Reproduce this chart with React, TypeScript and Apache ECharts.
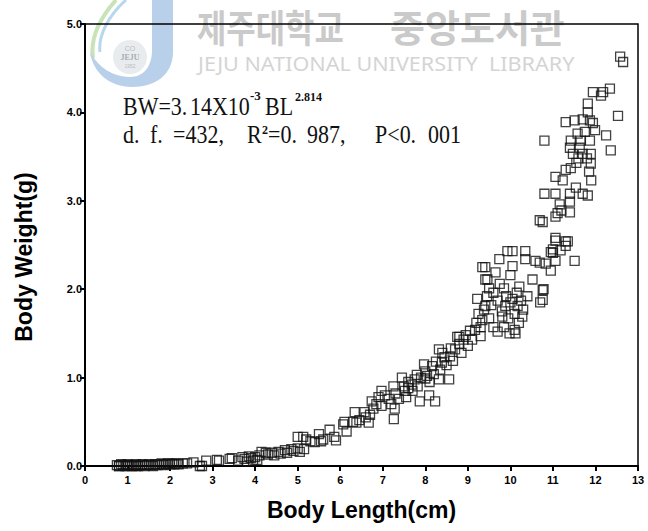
import React, { useEffect, useRef } from 'react';
import * as echarts from 'echarts';

// Axis settings
const xMin = 0;
const xMax = 13;
const xStep = 1;
const yMin = 0;
const yMax = 5;
const yStep = 1;

const xAxisTitle = 'Body Length(cm)';
const yAxisTitle = 'Body Weight(g)';

const blUnder3: number[][] = [
  [0.75, 0.01], [0.8, 0.0], [0.85, 0.02], [0.9, 0.01], [0.95, 0.0], [1.0, 0.02], [1.05, 0.01],
  [1.1, 0.0], [1.15, 0.01], [1.2, 0.02], [1.25, 0.0], [1.3, 0.01], [1.35, 0.02], [1.4, 0.0],
  [1.45, 0.01], [1.5, 0.02], [1.55, 0.01], [1.6, 0.0], [1.65, 0.02], [1.7, 0.01], [1.75, 0.02],
  [1.8, 0.03], [1.85, 0.01], [1.9, 0.02], [1.95, 0.03], [2.0, 0.02], [2.05, 0.03], [2.1, 0.02],
  [2.15, 0.03], [2.2, 0.02], [2.3, 0.03], [2.4, 0.03], [2.55, 0.04], [2.7, 0.0], [2.75, 0.0],
  [2.85, 0.06], [0.8, 0.0], [1.0, 0.0], [1.2, 0.0],
];

const bl3to5: number[][] = [
  [3.1, 0.07], [3.15, 0.06], [3.4, 0.08], [3.45, 0.09], [3.6, 0.06], [3.7, 0.1], [3.75, 0.08],
  [3.8, 0.05], [3.85, 0.11], [3.9, 0.09], [4.0, 0.1], [4.05, 0.07], [4.1, 0.12], [4.15, 0.16],
  [4.3, 0.13], [4.4, 0.15], [4.45, 0.12], [4.55, 0.16], [4.6, 0.14], [4.7, 0.18], [4.75, 0.15],
  [4.85, 0.19], [4.9, 0.17], [5.0, 0.2], [5.05, 0.16], [5.15, 0.19], [5.0, 0.33], [5.2, 0.3],
  [3.95, 0.06], [4.25, 0.15],
];

const bl5to7: number[][] = [
  [5.13, 0.33], [5.3, 0.28], [5.4, 0.27], [5.5, 0.36], [5.55, 0.28], [5.6, 0.3], [5.75, 0.41],
  [5.86, 0.33], [5.9, 0.29], [6.07, 0.47], [6.1, 0.5], [6.15, 0.39], [6.3, 0.5], [6.34, 0.61],
  [6.38, 0.49], [6.45, 0.52], [6.57, 0.61], [6.6, 0.55], [6.67, 0.49], [6.74, 0.73], [6.78, 0.65],
  [6.7, 0.58], [6.85, 0.7], [6.97, 0.85], [6.97, 0.68], [6.9, 0.78],
];

const bl7to9: number[][] = [
  [7.05, 0.8], [7.14, 0.76], [7.2, 0.7], [7.25, 0.9], [7.28, 0.65], [7.26, 0.53], [7.38, 0.76],
  [7.3, 0.82], [7.45, 1.0], [7.5, 0.9], [7.52, 0.85], [7.55, 0.78], [7.6, 0.95], [7.68, 0.92],
  [7.7, 0.85], [7.75, 0.98], [7.8, 1.03], [7.82, 0.9], [7.87, 0.73], [7.9, 1.0], [7.97, 1.15],
  [8.0, 1.07], [8.04, 1.02], [8.09, 0.8], [8.1, 0.95], [8.16, 1.13], [8.2, 1.04], [8.23, 0.73],
  [8.25, 1.18], [8.32, 1.32], [8.32, 0.98], [8.35, 1.09], [8.39, 1.17], [8.45, 1.23], [8.5, 1.14],
  [8.56, 0.98], [8.58, 1.24], [8.6, 1.33], [8.65, 1.19], [8.7, 1.32], [8.75, 1.46], [8.8, 1.38],
  [8.85, 1.28], [8.9, 1.43], [8.95, 1.48], [9.0, 1.36], [9.05, 1.53], [9.1, 1.43], [7.6, 0.88],
  [8.0, 0.99], [8.4, 1.28], [8.8, 1.46],
];

const bl9to10: number[][] = [
  [9.17, 1.54], [9.2, 1.62], [9.22, 1.89], [9.25, 1.72], [9.3, 1.57], [9.34, 1.65], [9.34, 2.25],
  [9.38, 1.77], [9.41, 1.81], [9.41, 2.11], [9.41, 2.25], [9.45, 1.92], [9.46, 2.11], [9.5, 1.67],
  [9.5, 2.01], [9.55, 1.82], [9.6, 1.96], [9.65, 2.19], [9.6, 1.57], [9.7, 1.87], [9.74, 2.34],
  [9.75, 2.06], [9.8, 1.75], [9.81, 1.69], [9.85, 1.57], [9.88, 1.81], [9.9, 1.92], [9.93, 2.43],
  [9.95, 1.67], [9.98, 1.5], [10.0, 1.85], [10.05, 2.43], [10.05, 2.26], [10.05, 1.89], [10.1, 1.54],
  [10.1, 1.72], [10.12, 1.5], [10.15, 1.96], [10.17, 1.81], [10.2, 1.62], [10.21, 2.03], [10.25, 1.87],
  [10.28, 1.69], [10.3, 1.77], [10.35, 2.43], [10.35, 2.34], [10.4, 1.92], [9.3, 1.47], [9.7, 1.52],
  [9.85, 2.01], [10.0, 2.16], [10.7, 1.85], [10.78, 2.0],
];

const bl10to12: number[][] = [
  [10.52, 2.11], [10.59, 2.32], [10.69, 2.3], [10.76, 1.99], [10.76, 1.88], [10.83, 2.29],
  [10.95, 2.21], [10.95, 2.42], [11.0, 2.41], [11.0, 2.45], [11.06, 2.58], [11.06, 2.32],
  [11.06, 2.55], [11.18, 2.44], [11.3, 2.49], [11.3, 2.54], [11.35, 2.54], [11.51, 2.32],
  [10.69, 2.78], [10.76, 2.76], [10.8, 3.08], [11.06, 2.82], [11.11, 2.86], [11.16, 2.96],
  [11.06, 3.08], [11.06, 3.27], [11.23, 3.23], [11.4, 3.08], [11.4, 2.87], [11.3, 3.35],
  [11.42, 3.37], [11.54, 3.15], [11.7, 3.08], [11.82, 3.06], [11.4, 2.99], [11.2, 2.89],
];

const bl11to13: number[][] = [
  [10.8, 3.68], [11.3, 3.89], [11.42, 3.68], [11.4, 3.6], [11.47, 3.53], [11.51, 3.91], [11.58, 3.76],
  [11.63, 3.6], [11.7, 3.53], [11.7, 3.92], [11.82, 4.1], [11.82, 4.0], [11.87, 3.91], [11.87, 3.68],
  [11.89, 3.53], [11.89, 3.42], [11.94, 4.23], [11.94, 3.88], [11.99, 3.8], [12.13, 4.19], [12.18, 4.23],
  [12.25, 3.74], [12.34, 4.27], [12.36, 3.57], [12.53, 3.96], [12.58, 4.63], [12.65, 4.57], [11.55, 3.43],
  [11.65, 3.68], [11.75, 3.78], [11.8, 3.48], [11.6, 3.48], [11.85, 3.33], [11.9, 3.23],
];

const allPoints = [...blUnder3, ...bl3to5, ...bl5to7, ...bl7to9, ...bl9to10, ...bl10to12, ...bl11to13];

const LOGO_D =
  'M152 0 L173 0 L173 52 C173 75 155 87 132 87 C110 87 93 73 90 52 C99 68 113 77 130 77 C144 77 152 66 152 50 Z';
let logoRegistered = false;

const serif = '"Liberation Serif", "DejaVu Serif", serif';
const sans = 'Arial, "Liberation Sans", Helvetica, sans-serif';

function txt(text: string, x: number, y: number, size: number, extra: any = {}, sy = 1.12) {
  return {
    type: 'text',
    x,
    y,
    scaleY: sy,
    z: 100,
    style: {
      text,
      fontFamily: serif,
      fontSize: size,
      fill: '#111',
      verticalAlign: 'top',
      ...extra,
    },
  };
}

export default function App() {
  const ref = useRef<HTMLDivElement>(null);
  useEffect(() => {
    document.body.style.margin = '0';
    if (!ref.current) return;
    if (!logoRegistered) {
      echarts.graphic.registerShape('jejuLogo', echarts.graphic.extendPath(LOGO_D, {}) as any);
      logoRegistered = true;
    }
    const chart = echarts.init(ref.current, null, { renderer: 'svg' });
    const option: any = {
      animation: false,
      backgroundColor: '#fff',
      grid: {
        left: 85,
        right: 10,
        top: 24,
        bottom: 65,
        show: true,
        borderColor: '#000',
        borderWidth: 1.5,
        backgroundColor: 'transparent',
      },
      xAxis: {
        type: 'value',
        min: xMin,
        max: xMax,
        interval: xStep,
        name: xAxisTitle,
        nameLocation: 'middle',
        nameGap: 32,
        nameTextStyle: { fontFamily: sans, fontWeight: 'bold', fontSize: 23, color: '#000' },
        axisLine: { show: true, onZero: false, lineStyle: { color: '#000', width: 2 } },
        axisTick: { show: true, inside: false, length: 5, lineStyle: { color: '#000', width: 2 } },
        axisLabel: { margin: 8, fontFamily: sans, fontWeight: 'bold', fontSize: 11, color: '#000' },
        splitLine: { show: false },
      },
      yAxis: {
        type: 'value',
        min: yMin,
        max: yMax,
        interval: yStep,
        name: yAxisTitle,
        nameLocation: 'middle',
        nameGap: 50,
        nameTextStyle: {
          fontFamily: sans,
          fontWeight: 'bold',
          fontSize: 23,
          color: '#000',
          padding: [0, 24, 0, 0],
        },
        axisLine: { show: true, onZero: false, lineStyle: { color: '#000', width: 2 } },
        axisTick: { show: true, inside: false, length: 5, lineStyle: { color: '#000', width: 2 } },
        axisLabel: {
          margin: 3,
          fontFamily: sans,
          fontWeight: 'bold',
          fontSize: 11,
          color: '#000',
          formatter: (v: number) => v.toFixed(1),
        },
        splitLine: { show: false },
      },
      series: [
        {
          type: 'scatter',
          data: allPoints,
          symbol: 'rect',
          symbolSize: 9,
          clip: false,
          itemStyle: { color: 'rgba(255,255,255,0)', borderColor: '#111', borderWidth: 1.3 },
          z: 5,
        },
      ],
      graphic: [
        // watermark logo
        { type: 'bezierCurve', z: -10, shape: { x1: 116, y1: 0, cpx1: 100, cpy1: 18, cpx2: 90, cpy2: 38, x2: 93, y2: 58 }, style: { stroke: '#c8e3b8', lineWidth: 4, fill: null } },
        { type: 'bezierCurve', z: -10, shape: { x1: 126, y1: 0, cpx1: 108, cpy1: 16, cpx2: 98, cpy2: 36, x2: 100, y2: 52 }, style: { stroke: '#b6d8ec', lineWidth: 3, fill: null } },
        { type: 'jejuLogo', z: -10, x: 0, y: 0, style: { fill: '#b9d0ea' } },
        { type: 'circle', z: -10, shape: { cx: 130, cy: 57, r: 17 }, style: { fill: '#e8ecee' } },
        { type: 'text', z: -9, x: 130, y: 48, style: { text: 'CO', fontFamily: sans, fontSize: 7, fill: '#b8bcc0', align: 'center', verticalAlign: 'middle' } },
        { type: 'text', z: -9, x: 130, y: 57, style: { text: 'JEJU', fontFamily: serif, fontWeight: 'bold', fontSize: 8, fill: '#a8adb2', align: 'center', verticalAlign: 'middle' } },
        { type: 'text', z: -9, x: 130, y: 66, style: { text: '1952', fontFamily: sans, fontSize: 5, fill: '#b8bcc0', align: 'center', verticalAlign: 'middle' } },
        // watermark text
        { type: 'text', z: -10, x: 197, y: 5, scaleX: 0.84, style: { text: '제주대학교', fontFamily: '"Noto Sans CJK KR", sans-serif', fontWeight: 'bold', fontSize: 38, lineHeight: 40, fill: '#cacaca', verticalAlign: 'top' } },
        { type: 'text', z: -10, x: 390, y: 5, scaleX: 1.0, style: { text: '중앙도서관', fontFamily: '"Noto Sans CJK KR", sans-serif', fontWeight: 'bold', fontSize: 38, lineHeight: 40, fill: '#cacaca', verticalAlign: 'top' } },
        { type: 'text', z: -10, x: 198, y: 53, scaleX: 1.08, style: { text: 'JEJU NATIONAL UNIVERSITY  LIBRARY', fontFamily: '"Noto Sans", sans-serif', fontSize: 20, fill: '#d4d4d4', verticalAlign: 'top' } },
        // regression annotation, line 1
        txt('BW=3.', 123, 94, 22),
        txt('14X10', 190, 94, 22),
        txt('-3', 250, 89, 13, { fontWeight: 'bold' }, 1),
        txt('BL', 265, 94, 22),
        txt('2.814', 295, 91, 12, { fontWeight: 'bold' }, 1),
        // line 2
        txt('d.', 123, 122, 22),
        txt('f.', 150, 122, 22),
        txt('=432,', 173, 122, 22),
        txt('R', 247, 122, 22),
        txt('2', 262, 124, 12, { fontWeight: 'bold' }, 1),
        txt('=0.', 268, 122, 22),
        txt('987,', 307, 122, 22),
        txt('P<0.', 375, 122, 22),
        txt('001', 428, 122, 22),
      ],
    };
    chart.setOption(option);
    return () => chart.dispose();
  }, []);
  return <div ref={ref} style={{ width: 648, height: 531, background: '#fff' }} />;
}
